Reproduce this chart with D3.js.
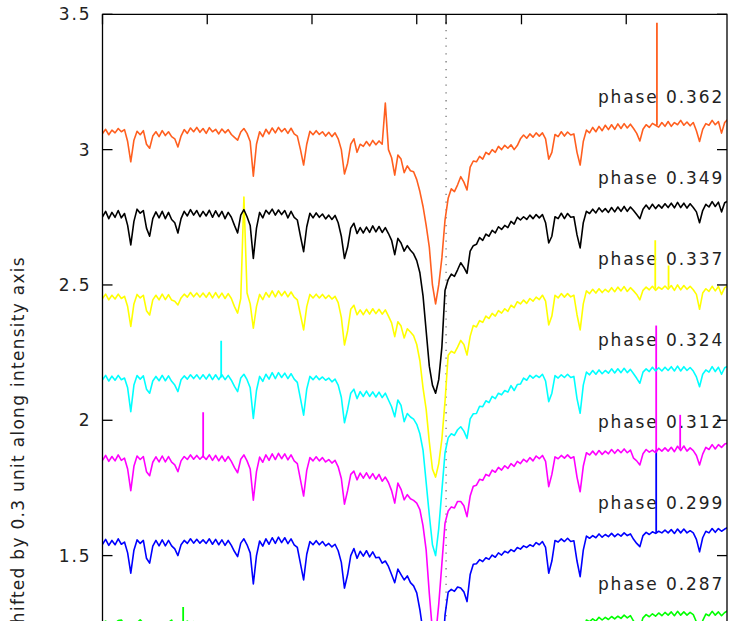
<!DOCTYPE html>
<html><head><meta charset="utf-8">
<script src="https://cdn.jsdelivr.net/npm/d3@7/dist/d3.min.js"></script>
<style>body{margin:0;background:#fff}svg{display:block;background:#fff}</style>
</head><body><svg id="c" width="730" height="621"></svg>
<script>
// wavelength grid (Angstrom)
const wavelength = [
6530.0,6530.3,6530.6,6530.9,6531.2,6531.5,6531.8,6532.1,6532.4,6532.7,
6533.0,6533.3,6533.6,6533.9,6534.2,6534.5,6534.8,6535.1,6535.4,6535.7,
6536.0,6536.3,6536.6,6536.9,6537.2,6537.5,6537.8,6538.1,6538.4,6538.7,
6539.0,6539.3,6539.6,6539.9,6540.2,6540.5,6540.8,6541.1,6541.4,6541.7,
6542.0,6542.3,6542.6,6542.9,6543.2,6543.5,6543.8,6544.1,6544.4,6544.7,
6545.0,6545.3,6545.6,6545.9,6546.2,6546.5,6546.8,6547.1,6547.4,6547.7,
6548.0,6548.3,6548.6,6548.9,6549.2,6549.5,6549.8,6550.1,6550.4,6550.7,
6551.0,6551.3,6551.6,6551.9,6552.2,6552.5,6552.8,6553.1,6553.4,6553.7,
6554.0,6554.3,6554.6,6554.9,6555.2,6555.5,6555.8,6556.1,6556.4,6556.7,
6557.0,6557.3,6557.6,6557.9,6558.2,6558.5,6558.8,6559.1,6559.4,6559.7,
6560.0,6560.3,6560.6,6560.9,6561.2,6561.5,6561.8,6562.1,6562.4,6562.7,
6563.0,6563.3,6563.6,6563.9,6564.2,6564.5,6564.8,6565.1,6565.4,6565.7,
6566.0,6566.3,6566.6,6566.9,6567.2,6567.5,6567.8,6568.1,6568.4,6568.7,
6569.0,6569.3,6569.6,6569.9,6570.2,6570.5,6570.8,6571.1,6571.4,6571.7,
6572.0,6572.3,6572.6,6572.9,6573.2,6573.5,6573.8,6574.1,6574.4,6574.7,
6575.0,6575.3,6575.6,6575.9,6576.2,6576.5,6576.8,6577.1,6577.4,6577.7,
6578.0,6578.3,6578.6,6578.9,6579.2,6579.5,6579.8,6580.1,6580.4,6580.7,
6581.0,6581.3,6581.6,6581.9,6582.2,6582.5,6582.8,6583.1,6583.4,6583.7,
6584.0,6584.3,6584.6,6584.9,6585.2,6585.5,6585.8,6586.1,6586.4,6586.7,
6587.0,6587.3,6587.6,6587.9,6588.2,6588.5,6588.8,6589.1,6589.4,6589.7];

const phases = ["0.287","0.299","0.312","0.324","0.337","0.349","0.362"];

// intensities as plotted (already shifted by 0.3 per phase)
const int287 = [
1.252,1.258,1.248,1.255,1.25,1.26,1.262,1.245,1.21,1.13,
1.22,1.252,1.263,1.25,1.2,1.18,1.235,1.252,1.245,1.255,
1.247,1.253,1.262,1.232,1.205,1.24,1.252,1.258,1.25,1.256,
1.25,1.255,1.248,1.254,1.247,1.242,1.25,1.245,1.25,1.24,
1.246,1.24,1.21,1.19,1.235,1.25,1.242,1.205,1.09,1.2,
1.242,1.236,1.25,1.244,1.254,1.246,1.255,1.25,1.253,1.245,
1.25,1.242,1.225,1.165,1.105,1.2,1.24,1.247,1.238,1.243,
1.235,1.24,1.23,1.235,1.228,1.212,1.17,1.075,1.125,1.195,
1.215,1.185,1.205,1.2,1.207,1.195,1.203,1.193,1.185,1.17,
1.17,1.155,1.125,1.095,1.145,1.13,1.105,1.115,1.1,1.08,
1.055,0.985,0.9,0.76,0.66,0.62,0.64,0.72,0.85,1.0,
1.06,1.068,1.072,1.078,1.08,1.07,1.03,1.125,1.158,1.17,
1.175,1.18,1.184,1.19,1.195,1.198,1.203,1.207,1.21,1.215,
1.218,1.222,1.226,1.23,1.233,1.237,1.236,1.24,1.244,1.248,
1.245,1.23,1.14,1.18,1.245,1.25,1.247,1.252,1.248,1.25,
1.24,1.18,1.125,1.22,1.262,1.256,1.266,1.258,1.272,1.262,
1.272,1.264,1.275,1.266,1.276,1.268,1.28,1.27,1.278,1.258,
1.245,1.232,1.27,1.282,1.274,1.285,1.276,1.288,1.278,1.29,
1.28,1.292,1.278,1.294,1.28,1.292,1.28,1.29,1.282,1.255,
1.21,1.26,1.284,1.278,1.294,1.28,1.292,1.278,1.29,1.296];

const int299 = [
1.542,1.56,1.538,1.556,1.54,1.562,1.542,1.55,1.51,1.435,
1.52,1.558,1.545,1.556,1.49,1.472,1.535,1.556,1.536,1.558,
1.536,1.556,1.536,1.525,1.5,1.54,1.556,1.545,1.562,1.546,
1.56,1.546,1.558,1.545,1.562,1.542,1.56,1.54,1.558,1.538,
1.556,1.538,1.515,1.496,1.546,1.562,1.54,1.51,1.395,1.5,
1.554,1.535,1.562,1.542,1.566,1.545,1.568,1.548,1.566,1.544,
1.562,1.54,1.53,1.47,1.41,1.505,1.552,1.54,1.555,1.54,
1.552,1.536,1.545,1.532,1.542,1.518,1.475,1.38,1.43,1.5,
1.526,1.49,1.516,1.498,1.518,1.495,1.514,1.492,1.494,1.472,
1.48,1.46,1.43,1.4,1.45,1.43,1.41,1.425,1.4,1.388,
1.362,1.3,1.22,1.05,0.95,0.91,0.93,1.02,1.1,1.28,
1.365,1.375,1.368,1.384,1.38,1.366,1.33,1.43,1.468,1.47,
1.485,1.478,1.492,1.486,1.502,1.494,1.51,1.502,1.516,1.51,
1.522,1.515,1.53,1.524,1.536,1.53,1.54,1.534,1.548,1.54,
1.552,1.53,1.435,1.48,1.556,1.55,1.562,1.552,1.564,1.552,
1.555,1.48,1.422,1.52,1.572,1.564,1.574,1.566,1.58,1.568,
1.578,1.57,1.582,1.57,1.58,1.572,1.584,1.574,1.58,1.56,
1.545,1.533,1.574,1.586,1.578,1.588,1.582,1.59,1.584,1.594,
1.584,1.596,1.582,1.598,1.584,1.598,1.584,1.592,1.584,1.56,
1.514,1.566,1.59,1.584,1.6,1.586,1.6,1.59,1.598,1.604];

const int312 = [
1.852,1.87,1.848,1.866,1.85,1.872,1.852,1.86,1.82,1.74,
1.83,1.868,1.855,1.866,1.81,1.795,1.845,1.865,1.846,1.868,
1.846,1.866,1.845,1.835,1.81,1.85,1.866,1.855,1.872,1.856,
1.87,1.856,1.868,1.855,1.872,1.852,1.87,1.85,1.868,1.848,
1.866,1.848,1.825,1.806,1.856,1.872,1.85,1.82,1.705,1.81,
1.864,1.845,1.872,1.852,1.876,1.855,1.878,1.858,1.876,1.854,
1.872,1.85,1.84,1.78,1.72,1.815,1.862,1.85,1.865,1.85,
1.862,1.846,1.855,1.842,1.852,1.828,1.785,1.69,1.74,1.8,
1.812,1.78,1.805,1.786,1.806,1.785,1.803,1.782,1.8,1.775,
1.79,1.77,1.74,1.694,1.768,1.745,1.706,1.725,1.71,1.704,
1.694,1.67,1.61,1.52,1.36,1.22,1.2,1.32,1.47,1.62,
1.665,1.68,1.676,1.7,1.7,1.684,1.644,1.72,1.756,1.76,
1.782,1.778,1.8,1.794,1.816,1.808,1.826,1.816,1.832,1.822,
1.84,1.83,1.848,1.84,1.856,1.846,1.862,1.85,1.868,1.858,
1.87,1.848,1.755,1.8,1.865,1.858,1.87,1.86,1.872,1.86,
1.865,1.79,1.736,1.83,1.88,1.872,1.886,1.872,1.888,1.874,
1.886,1.876,1.892,1.878,1.892,1.88,1.894,1.88,1.89,1.86,
1.85,1.835,1.876,1.892,1.882,1.89,1.88,1.896,1.886,1.898,
1.886,1.9,1.884,1.904,1.888,1.905,1.886,1.898,1.888,1.87,
1.835,1.875,1.9,1.892,1.91,1.894,1.91,1.9,1.912,1.916];

const int324 = [
2.15,2.166,2.145,2.163,2.148,2.166,2.15,2.156,2.12,2.032,
2.13,2.165,2.152,2.164,2.115,2.1,2.145,2.162,2.146,2.166,
2.146,2.164,2.144,2.13,2.106,2.15,2.164,2.152,2.168,2.154,
2.168,2.152,2.168,2.152,2.17,2.15,2.168,2.15,2.168,2.15,
2.166,2.148,2.125,2.106,2.156,2.17,2.15,2.12,2.007,2.11,
2.162,2.144,2.17,2.152,2.176,2.154,2.176,2.158,2.174,2.154,
2.172,2.152,2.14,2.08,2.019,2.115,2.162,2.15,2.164,2.15,
2.16,2.148,2.156,2.142,2.152,2.13,2.085,1.991,2.04,2.1,
2.115,2.08,2.106,2.088,2.108,2.088,2.105,2.086,2.104,2.084,
2.1,2.075,2.05,2.013,2.075,2.055,1.995,2.025,2.012,2.004,
1.985,1.95,1.89,1.77,1.65,1.54,1.5,1.6,1.74,1.88,
1.935,1.95,1.944,1.965,1.976,1.96,1.933,2.005,2.024,2.025,
2.052,2.05,2.072,2.065,2.088,2.08,2.1,2.094,2.11,2.104,
2.128,2.11,2.132,2.134,2.156,2.148,2.166,2.156,2.166,2.158,
2.17,2.145,2.069,2.1,2.165,2.156,2.168,2.158,2.17,2.158,
2.162,2.08,2.026,2.13,2.178,2.168,2.184,2.17,2.186,2.172,
2.184,2.174,2.19,2.175,2.19,2.176,2.192,2.176,2.188,2.172,
2.155,2.137,2.178,2.19,2.18,2.196,2.182,2.194,2.182,2.196,
2.184,2.198,2.182,2.2,2.182,2.198,2.184,2.195,2.182,2.16,
2.124,2.17,2.186,2.178,2.198,2.18,2.196,2.17,2.194,2.2];

const int337 = [
2.45,2.466,2.445,2.462,2.448,2.466,2.45,2.458,2.42,2.347,
2.43,2.465,2.452,2.462,2.405,2.389,2.445,2.462,2.445,2.466,
2.446,2.464,2.444,2.44,2.426,2.452,2.466,2.455,2.472,2.456,
2.47,2.455,2.47,2.454,2.472,2.452,2.472,2.452,2.47,2.45,
2.468,2.45,2.42,2.396,2.45,2.825,2.47,2.43,2.34,2.42,
2.465,2.446,2.472,2.455,2.478,2.456,2.478,2.46,2.476,2.456,
2.474,2.455,2.445,2.39,2.334,2.42,2.465,2.452,2.466,2.452,
2.465,2.45,2.462,2.448,2.458,2.435,2.38,2.278,2.33,2.41,
2.425,2.39,2.408,2.39,2.41,2.392,2.412,2.394,2.41,2.392,
2.408,2.385,2.36,2.309,2.364,2.348,2.304,2.338,2.326,2.312,
2.28,2.22,2.12,2.04,1.92,1.82,1.79,1.84,1.93,2.07,
2.24,2.255,2.248,2.27,2.295,2.28,2.241,2.31,2.35,2.345,
2.368,2.362,2.385,2.376,2.395,2.385,2.405,2.396,2.412,2.402,
2.425,2.416,2.438,2.43,2.444,2.432,2.45,2.44,2.455,2.446,
2.462,2.44,2.352,2.385,2.462,2.452,2.468,2.455,2.468,2.456,
2.462,2.39,2.334,2.43,2.478,2.468,2.484,2.47,2.486,2.472,
2.484,2.474,2.49,2.475,2.492,2.478,2.494,2.476,2.49,2.478,
2.465,2.445,2.48,2.492,2.482,2.495,2.48,2.492,2.484,2.496,
2.484,2.498,2.48,2.5,2.482,2.498,2.484,2.495,2.482,2.465,
2.41,2.47,2.486,2.476,2.495,2.478,2.494,2.465,2.49,2.496];

const int349 = [
2.752,2.772,2.745,2.768,2.75,2.775,2.748,2.764,2.72,2.648,
2.735,2.78,2.765,2.775,2.71,2.68,2.745,2.77,2.748,2.772,
2.745,2.768,2.742,2.73,2.692,2.745,2.772,2.755,2.778,2.758,
2.775,2.752,2.772,2.755,2.776,2.75,2.774,2.752,2.772,2.745,
2.768,2.75,2.72,2.692,2.758,2.778,2.752,2.72,2.598,2.71,
2.768,2.748,2.776,2.762,2.78,2.758,2.777,2.76,2.775,2.748,
2.772,2.75,2.74,2.68,2.623,2.715,2.765,2.748,2.766,2.75,
2.762,2.744,2.758,2.742,2.757,2.73,2.68,2.598,2.64,2.71,
2.728,2.69,2.712,2.692,2.714,2.694,2.718,2.696,2.716,2.694,
2.712,2.69,2.665,2.612,2.672,2.655,2.625,2.645,2.628,2.615,
2.59,2.545,2.46,2.33,2.2,2.13,2.1,2.15,2.27,2.48,
2.52,2.54,2.532,2.556,2.582,2.565,2.543,2.625,2.645,2.65,
2.675,2.665,2.688,2.68,2.702,2.692,2.715,2.705,2.72,2.712,
2.735,2.725,2.75,2.74,2.752,2.742,2.758,2.745,2.76,2.748,
2.76,2.73,2.655,2.68,2.752,2.745,2.765,2.745,2.764,2.75,
2.752,2.685,2.637,2.73,2.772,2.764,2.78,2.766,2.785,2.77,
2.782,2.768,2.786,2.77,2.788,2.772,2.79,2.772,2.788,2.775,
2.76,2.745,2.78,2.795,2.78,2.798,2.782,2.796,2.784,2.8,
2.786,2.802,2.785,2.805,2.786,2.802,2.784,2.8,2.786,2.77,
2.73,2.775,2.798,2.788,2.808,2.79,2.806,2.77,2.804,2.81];

const int362 = [
3.06,3.075,3.055,3.072,3.062,3.078,3.066,3.074,3.03,2.955,
3.035,3.068,3.055,3.07,3.02,3.005,3.05,3.066,3.048,3.07,
3.052,3.066,3.048,3.04,3.01,3.05,3.074,3.06,3.08,3.066,
3.082,3.064,3.078,3.06,3.081,3.066,3.075,3.058,3.076,3.062,
3.074,3.056,3.045,3.035,3.065,3.078,3.06,3.03,2.902,3.02,
3.066,3.048,3.075,3.058,3.08,3.062,3.082,3.066,3.078,3.06,
3.079,3.058,3.05,3.0,2.943,3.02,3.068,3.055,3.07,3.056,
3.066,3.05,3.064,3.048,3.062,3.04,3.0,2.91,2.95,3.02,
3.04,2.99,3.02,3.012,3.03,3.014,3.034,3.018,3.032,3.02,
3.172,3.0,2.97,2.906,2.98,2.965,2.915,2.94,2.922,2.918,
2.889,2.845,2.79,2.72,2.64,2.5,2.43,2.5,2.6,2.74,
2.82,2.855,2.845,2.87,2.9,2.88,2.851,2.935,2.958,2.955,
2.975,2.965,2.99,2.982,3.0,2.99,3.012,3.0,3.016,3.005,
3.018,3.0,3.015,3.04,3.054,3.042,3.058,3.046,3.062,3.05,
3.062,3.04,2.965,2.99,3.056,3.048,3.066,3.05,3.065,3.054,
3.058,2.99,2.943,3.03,3.072,3.062,3.082,3.066,3.086,3.07,
3.09,3.074,3.092,3.075,3.095,3.078,3.096,3.08,3.094,3.078,
3.06,3.032,3.075,3.092,3.082,3.097,3.09,3.083,3.1,3.086,
3.104,3.086,3.1,3.092,3.108,3.09,3.102,3.088,3.1,3.07,
3.03,3.075,3.096,3.09,3.108,3.092,3.104,3.061,3.1,3.112];

// narrow cosmic-ray spikes: [wavelength, base, peak]
const spikes287 = [[6537.70, 1.255, 1.31]];
const spikes299 = [[6582.86, 1.582, 1.89]];
const spikes312 = [[6539.61, 1.862, 2.03], [6582.86, 1.886, 2.35], [6585.15, 1.895, 2.02]];
const spikes324 = [[6541.33, 2.158, 2.294]];
const spikes337 = [[6582.77, 2.486, 2.665], [6584.04, 2.49, 2.572]];
const spikes349 = [];
const spikes362 = [[6582.93, 3.09, 3.469]];

const labelY = [1.373, 1.673, 1.973, 2.273, 2.573, 2.873, 3.173];
const labelX = 6589.35;
const yTicks = [1.5, 2, 2.5, 3, 3.5];
const yTickLabels = ["1.5", "2", "2.5", "3", "3.5"];
const xTicks = [6530, 6540, 6550, 6560, 6562.8, 6570, 6580];
const restWavelength = 6562.8;
const yLabel = "shifted by 0.3 unit along intensity axis";

const seriesValues = [int287, int299, int312, int324, int337, int349, int362];
const seriesSpikes = [spikes287, spikes299, spikes312, spikes324, spikes337, spikes349, spikes362];
const seriesColors = ["#00ff00", "#0000ff", "#ff00ff", "#00ffff", "#ffff00", "#000000", "#ff5f1f"];

const svg = d3.select("#c");
const L = 102.5, T = 14.3, R = 727, B = 720;
const x = d3.scaleLinear().domain([6530, 6589.62]).range([L, R]);
const y = d3.scaleLinear().domain([1.0, 3.5]).range([14.3 + 2.5 * 270.65, T]);

svg.append("rect").attr("width", 730).attr("height", 621).attr("fill", "#fff");

svg.append("defs").append("clipPath").attr("id", "clip")
  .append("rect").attr("x", L).attr("y", T).attr("width", R - L).attr("height", B - T);

const font = "'DejaVu Sans', Verdana, sans-serif";

// tick labels on left
svg.append("g").selectAll("text").data(yTicks).join("text")
  .attr("x", 91.5).attr("y", d => y(d)).attr("dy", "0.36em")
  .attr("text-anchor", "end")
  .style("font-family", font).style("font-size", "17px").style("letter-spacing", "1.9px")
  .attr("fill", "#222")
  .text((d, i) => yTickLabels[i]);

// y label
svg.append("text")
  .attr("transform", "translate(24,256) rotate(-90)")
  .attr("text-anchor", "end")
  .style("font-family", font).style("font-size", "17px").style("letter-spacing", "1.28px")
  .attr("fill", "#222")
  .text(yLabel);

// phase labels
svg.append("g").selectAll("text").data(phases).join("text")
  .attr("x", x(labelX)).attr("y", (d, i) => y(labelY[i]))
  .attr("text-anchor", "end")
  .style("font-family", font).style("font-size", "17px").style("letter-spacing", "1.9px")
  .attr("fill", "#222")
  .text(d => "phase " + d);

// rest wavelength dotted line
svg.append("line")
  .attr("x1", x(restWavelength)).attr("x2", x(restWavelength))
  .attr("y1", T).attr("y2", B)
  .attr("stroke", "#777").attr("stroke-width", 1.3)
  .attr("stroke-dasharray", "1.3,6.5");

// spectra
const plot = svg.append("g").attr("clip-path", "url(#clip)");
const line = d3.line().x((d, i) => x(wavelength[i])).y(d => y(d));
seriesValues.forEach((vals, k) => {
  plot.append("path").attr("d", line(vals))
    .attr("fill", "none").attr("stroke", seriesColors[k])
    .attr("stroke-width", 1.6).attr("stroke-linejoin", "round");
  plot.append("g").selectAll("line").data(seriesSpikes[k]).join("line")
    .attr("x1", d => x(d[0])).attr("x2", d => x(d[0]))
    .attr("y1", d => y(d[1])).attr("y2", d => y(d[2]))
    .attr("stroke", seriesColors[k]).attr("stroke-width", 1.8);
});

// frame
svg.append("path")
  .attr("d", `M${L},${B}V${T}H${R}V${B}`)
  .attr("fill", "none").attr("stroke", "#000").attr("stroke-width", 1.3);

// ticks
const tk = svg.append("g").attr("stroke", "#000").attr("stroke-width", 1.3);
yTicks.forEach(v => {
  tk.append("line").attr("x1", L).attr("x2", L + 10).attr("y1", y(v)).attr("y2", y(v));
  tk.append("line").attr("x1", R).attr("x2", R - 10).attr("y1", y(v)).attr("y2", y(v));
});
xTicks.forEach(v => {
  tk.append("line").attr("x1", x(v)).attr("x2", x(v)).attr("y1", T).attr("y2", T + 10);
});
</script></body></html>
